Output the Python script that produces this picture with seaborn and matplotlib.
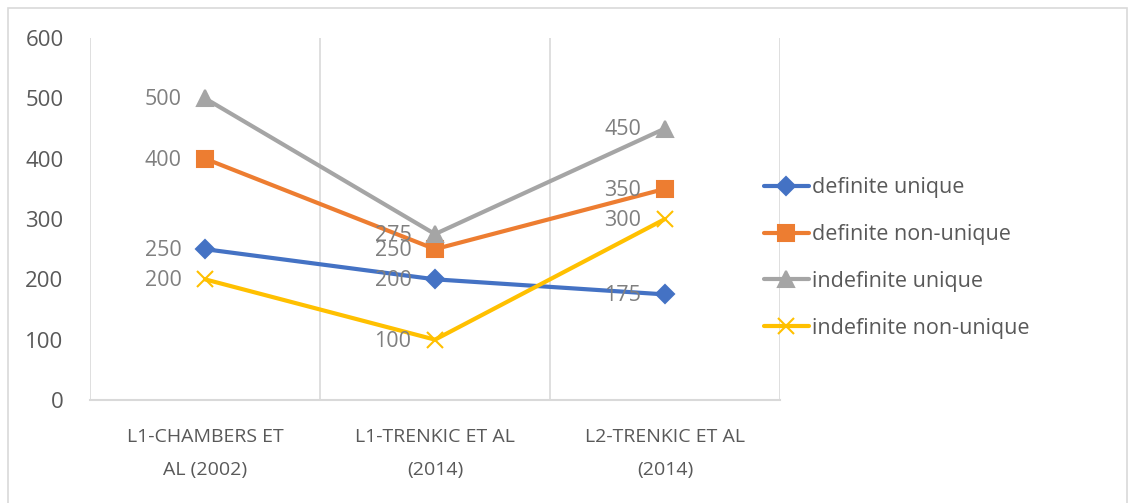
import pandas as pd
import numpy as np
import matplotlib.pyplot as plt
import seaborn as sns
from matplotlib.patches import Rectangle

# data
studies = ["L1-CHAMBERS ET\nAL (2002)", "L1-TRENKIC ET AL\n(2014)", "L2-TRENKIC ET AL\n(2014)"]
series = ["definite unique", "definite non-unique", "indefinite unique", "indefinite non-unique"]
definite_unique = [250, 200, 175]
definite_non_unique = [400, 250, 350]
indefinite_unique = [500, 275, 450]
indefinite_non_unique = [200, 100, 300]

colors = ["#4472C4", "#ED7D31", "#A5A5A5", "#FFC000"]
markers = ["D", "s", "^", "x"]
msizes = [9, 11, 11, 11]

rows = []
for name, vals in zip(series, [definite_unique, definite_non_unique,
                               indefinite_unique, indefinite_non_unique]):
    for i, v in enumerate(vals):
        rows.append({"study": i, "label": studies[i], "series": name, "value": v})
df = pd.DataFrame(rows)

sns.set_style("white")
plt.rcParams['font.family'] = ['Open Sans', 'DejaVu Sans']

fig = plt.figure(figsize=(11.35, 5.03), dpi=100)
ax = fig.add_axes([90/1135, 1-400/503, 690/1135, 362/503])

# one call per series (filled and line markers can't be mixed in one call)
for name, col, mk, ms in zip(series, colors, markers, msizes):
    sub = df[df["series"] == name]
    sns.lineplot(data=sub, x="study", y="value", color=col, marker=mk,
                 markersize=ms, markeredgecolor=col, markeredgewidth=1.5,
                 linewidth=3, label=name, ax=ax)
    for _, r in sub.iterrows():
        ax.annotate(str(r["value"]), (r["study"], r["value"]),
                    xytext=(-17, -1), textcoords="offset points",
                    ha="right", va="center", fontsize=15.5, color="#7F7F7F")

ax.set_xlim(-0.5, 2.5)
ax.set_ylim(0, 600)
ax.set_yticks(range(0, 601, 100))
ax.set_xticks(range(len(studies)))
ax.set_xticklabels(studies, fontsize=14, color="#595959", linespacing=2.1)
ax.set_xticks([-0.5, 0.5, 1.5, 2.5], minor=True)
ax.tick_params(axis="y", labelsize=16, labelcolor="#595959", length=0, pad=19)
ax.tick_params(axis="x", length=0, pad=20)
ax.tick_params(which="minor", length=0)
ax.grid(False)
ax.grid(True, which="minor", axis="x", color="#D9D9D9", linewidth=1.2)
ax.set_xlabel("")
ax.set_ylabel("")
for s in ["top", "left", "right"]:
    ax.spines[s].set_visible(False)
ax.spines["bottom"].set_color("#D9D9D9")
ax.spines["bottom"].set_linewidth(1.5)

handles, labels = ax.get_legend_handles_labels()
ax.legend(handles, labels, loc="center left", bbox_to_anchor=(755/1135, 1-258/503),
          bbox_transform=fig.transFigure, frameon=False, fontsize=15.5,
          labelcolor="#595959", handlelength=2.1, handletextpad=0.15,
          labelspacing=1.2, borderaxespad=0)

# chart border
fig.patches.append(Rectangle((8/1135, -0.02), 1119/1135, 1-8/503+0.02,
                             transform=fig.transFigure, fill=False,
                             edgecolor="#D9D9D9", linewidth=1.2))

plt.savefig("out.png", dpi=100)
